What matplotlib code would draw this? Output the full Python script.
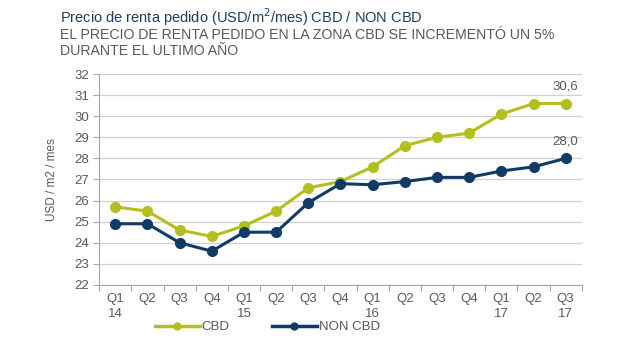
import matplotlib
matplotlib.use("Agg")
import matplotlib.pyplot as plt
import numpy as np
from matplotlib.lines import Line2D

quarters = ["Q1\n14", "Q2", "Q3", "Q4", "Q1\n15", "Q2", "Q3", "Q4",
            "Q1\n16", "Q2", "Q3", "Q4", "Q1\n17", "Q2", "Q3\n17"]
cbd = [25.7, 25.5, 24.6, 24.3, 24.8, 25.5, 26.6, 26.9,
       27.6, 28.6, 29.0, 29.2, 30.1, 30.6, 30.6]
non_cbd = [24.9, 24.9, 24.0, 23.6, 24.5, 24.5, 25.9, 26.8,
           26.75, 26.9, 27.1, 27.1, 27.4, 27.6, 28.0]
series_names = ["CBD", "NON CBD"]

green = "#b3bf1c"
navy = "#0f3b64"
grey_text = "#595959"

plt.rcParams["font.family"] = ["Liberation Sans", "DejaVu Sans"]

fig = plt.figure(figsize=(6.4, 3.38), dpi=100)
ax = fig.add_axes([0.155, 0.157, 0.754, 0.624])

x = np.arange(len(quarters))
ax.plot(x, cbd, color=green, lw=2.2, marker="o", ms=7, zorder=3)
ax.plot(x, non_cbd, color=navy, lw=2.2, marker="o", ms=7, zorder=4)

ax.annotate(f"{cbd[-1]:.1f}".replace(".", ","), (x[-1], cbd[-1]),
            xytext=(0, 8), textcoords="offset points", ha="center",
            va="bottom", fontsize=9.5, color=grey_text)
ax.annotate(f"{non_cbd[-1]:.1f}".replace(".", ","), (x[-1], non_cbd[-1]),
            xytext=(0, 8), textcoords="offset points", ha="center",
            va="bottom", fontsize=9.5, color=grey_text)

ax.set_xlim(-0.5, len(quarters) - 0.5)
ax.set_ylim(22, 32)
ax.set_yticks(np.arange(22, 33, 1))
ax.tick_params(axis="y", labelsize=9.5, labelcolor=grey_text, color="#a6a6a6",
               length=4, pad=3)
ax.grid(axis="y", color="#d0d0d0", lw=0.9)
ax.set_axisbelow(True)

ax.set_xticks(np.arange(-0.5, len(quarters), 1))
ax.set_xticklabels([])
ax.set_xticks(x, minor=True)
ax.set_xticklabels(quarters, minor=True)
ax.tick_params(axis="x", which="major", length=4, color="#a6a6a6")
ax.tick_params(axis="x", which="minor", length=0, labelsize=9.5,
               labelcolor=grey_text, pad=6)
for lbl in ax.get_xticklabels(minor=True):
    lbl.set_linespacing(1.25)
    lbl.set_verticalalignment("top")

for side in ("top", "right"):
    ax.spines[side].set_visible(False)
for side in ("left", "bottom"):
    ax.spines[side].set_color("#a6a6a6")

ax.set_ylabel("USD / m2 / mes", fontsize=8.5, color=grey_text, labelpad=12)

fig.text(0.094, 0.948, "Precio de renta pedido (USD/m$^{2}$/mes) CBD / NON CBD",
         fontsize=10.5, color="#1f3d5c", va="center")
fig.text(0.094, 0.897, "EL PRECIO DE RENTA PEDIDO EN LA ZONA CBD SE INCREMENTÓ UN 5%",
         fontsize=10.2, color=grey_text, va="center")
fig.text(0.094, 0.850, "DURANTE EL ULTIMO AÑO",
         fontsize=10.2, color=grey_text, va="center")

handles = [Line2D([], [], color=green, lw=2.5, marker="o", ms=5),
           Line2D([], [], color=navy, lw=2.5, marker="o", ms=5)]
fig.legend(handles, series_names, loc="center", bbox_to_anchor=(0.418, 0.032),
           ncol=2, frameon=False, fontsize=9.5, handlelength=3.4,
           handletextpad=0.15, columnspacing=3.2, labelcolor=grey_text)

fig.savefig("out.png", dpi=100)
